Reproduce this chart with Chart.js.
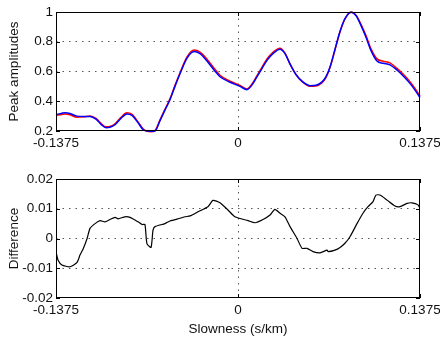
<!DOCTYPE html>
<html>
<head>
<meta charset="utf-8">
<script src="https://cdn.jsdelivr.net/npm/chart.js@4"></script>
<style>
  html, body { margin: 0; padding: 0; background: #fff; }
  #wrap { position: relative; width: 440px; height: 338px; overflow: hidden; }
  canvas { position: absolute; left: 0; }
  #topChart { top: 0; }
  #diffChart { top: 160px; }
</style>
</head>
<body>
<div id="wrap">
  <canvas id="topChart" width="440" height="160"></canvas>
  <canvas id="diffChart" width="440" height="178"></canvas>
</div>
<script>
// Slowness samples (s/km) for the peak amplitude curves
const slowness = [
  -0.1375, -0.1330, -0.1307, -0.1269, -0.1216, -0.1163, -0.1118, -0.1073, -0.1035, -0.0997,
  -0.0967, -0.0929, -0.0884, -0.0839, -0.0801, -0.0755, -0.0718, -0.0688, -0.0657, -0.0627,
  -0.0589, -0.0552, -0.0514, -0.0476, -0.0438, -0.0385, -0.0332, -0.0287, -0.0234, -0.0181,
  -0.0136, -0.0060, 0.0015, 0.0068, 0.0106, 0.0144, 0.0181, 0.0219, 0.0264, 0.0317,
  0.0355, 0.0393, 0.0438, 0.0484, 0.0544, 0.0589, 0.0635, 0.0665, 0.0695, 0.0733,
  0.0771, 0.0808, 0.0854, 0.0892, 0.0929, 0.0967, 0.1005, 0.1050, 0.1096, 0.1148,
  0.1201, 0.1254, 0.1299, 0.1337, 0.1375
];

const bluePeak = [
  0.310, 0.320, 0.323, 0.318, 0.300, 0.298, 0.298, 0.280, 0.245, 0.222,
  0.225, 0.242, 0.285, 0.315, 0.305, 0.255, 0.210, 0.200, 0.198, 0.200,
  0.270, 0.340, 0.410, 0.500, 0.585, 0.690, 0.735, 0.720, 0.670, 0.610,
  0.565, 0.528, 0.500, 0.478, 0.510, 0.565, 0.620, 0.675, 0.720, 0.750,
  0.720, 0.650, 0.580, 0.535, 0.505, 0.508, 0.530, 0.565, 0.630, 0.750,
  0.870, 0.955, 0.999, 0.975, 0.910, 0.830, 0.740, 0.670, 0.655, 0.645,
  0.610, 0.565, 0.520, 0.475, 0.425
];

const redPeak = [
  0.306, 0.311, 0.314, 0.309, 0.292, 0.295, 0.301, 0.285, 0.251, 0.228,
  0.231, 0.249, 0.292, 0.322, 0.312, 0.261, 0.215, 0.198, 0.195, 0.204,
  0.275, 0.345, 0.416, 0.507, 0.592, 0.698, 0.744, 0.731, 0.683, 0.622,
  0.575, 0.535, 0.506, 0.483, 0.516, 0.572, 0.628, 0.684, 0.729, 0.757,
  0.724, 0.651, 0.579, 0.532, 0.501, 0.503, 0.525, 0.561, 0.626, 0.746,
  0.867, 0.953, 1.000, 0.979, 0.917, 0.841, 0.752, 0.685, 0.669, 0.658,
  0.621, 0.576, 0.532, 0.487, 0.435
];

// Difference curve has its own sampling
const diffSlowness = [
  -0.1375, -0.1360, -0.1330, -0.1269, -0.1216, -0.1193, -0.1171, -0.1140, -0.1118, -0.1080,
  -0.1042, -0.1005, -0.0967, -0.0929, -0.0906, -0.0854, -0.0816, -0.0755, -0.0725, -0.0703,
  -0.0688, -0.0657, -0.0642, -0.0627, -0.0552, -0.0514, -0.0438, -0.0400, -0.0362, -0.0302,
  -0.0227, -0.0189, -0.0136, -0.0076, -0.0023, 0.0076, 0.0128, 0.0189, 0.0242, 0.0279,
  0.0317, 0.0355, 0.0393, 0.0446, 0.0484, 0.0521, 0.0567, 0.0620, 0.0673, 0.0680,
  0.0733, 0.0771, 0.0808, 0.0846, 0.0899, 0.0944, 0.0982, 0.1020, 0.1042, 0.1073,
  0.1126, 0.1186, 0.1224, 0.1277, 0.1314, 0.1360, 0.1375
];

const diffValues = [
  -0.0044, -0.0072, -0.0089, -0.0095, -0.0080, -0.0055, -0.0036, 0.0000, 0.0034, 0.0050,
  0.0060, 0.0056, 0.0064, 0.0071, 0.0066, 0.0073, 0.0071, 0.0056, 0.0047, 0.0047,
  -0.0017, -0.0030, 0.0028, 0.0040, 0.0050, 0.0059, 0.0068, 0.0073, 0.0076, 0.0090,
  0.0107, 0.0128, 0.0120, 0.0096, 0.0073, 0.0060, 0.0053, 0.0064, 0.0079, 0.0098,
  0.0085, 0.0073, 0.0040, 0.0000, -0.0033, -0.0033, -0.0044, -0.0048, -0.0039, -0.0044,
  -0.0039, -0.0030, -0.0016, 0.0006, 0.0050, 0.0085, 0.0107, 0.0124, 0.0146, 0.0146,
  0.0129, 0.0109, 0.0107, 0.0118, 0.0120, 0.0113, 0.0101
];

// Axis ticks
const xTicks = [-0.1375, 0, 0.1375];
const xTickLabels = ['-0.1375', '0', '0.1375'];
const topYTicks = [0.2, 0.4, 0.6, 0.8, 1];
const topYTickLabels = ['0.2', '0.4', '0.6', '0.8', '1'];
const diffYTicks = [-0.02, -0.01, 0, 0.01, 0.02];
const diffYTickLabels = ['-0.02', '-0.01', '0', '0.01', '0.02'];

const FONT = { family: "'Liberation Sans', Arial, Helvetica, sans-serif", size: 13.5 };
const TEXT = '#111';

// Draws the box round the plot area and short inward tick marks
const framePlugin = {
  id: 'frame',
  afterDraw(chart) {
    const { ctx, chartArea: a, scales } = chart;
    ctx.save();
    ctx.strokeStyle = '#000';
    ctx.lineWidth = 1;
    ctx.setLineDash([]);
    ctx.strokeRect(Math.round(a.left) + 0.5, Math.round(a.top) + 0.5,
      Math.round(a.width) - 1, Math.round(a.height) - 1);
    ctx.beginPath();
    scales.y.ticks.forEach(t => {
      const y = Math.round(scales.y.getPixelForValue(t.value)) + 0.5;
      ctx.moveTo(a.left, y); ctx.lineTo(a.left + 4, y);
      ctx.moveTo(a.right - 4, y); ctx.lineTo(a.right, y);
    });
    scales.x.ticks.forEach(t => {
      const x = Math.round(scales.x.getPixelForValue(t.value)) + 0.5;
      ctx.moveTo(x, a.top); ctx.lineTo(x, a.top + 4);
      ctx.moveTo(x, a.bottom - 4); ctx.lineTo(x, a.bottom);
    });
    ctx.stroke();
    ctx.restore();
  }
};

function innerGrid(ticks) {
  const lo = ticks[0], hi = ticks[ticks.length - 1];
  return ctx => (ctx.tick && ctx.tick.value > lo && ctx.tick.value < hi) ? '#555' : 'rgba(0,0,0,0)';
}

function xScale(height, withTitle) {
  return {
    type: 'linear',
    min: xTicks[0],
    max: xTicks[xTicks.length - 1],
    afterBuildTicks: s => { s.ticks = xTicks.map(v => ({ value: v })); },
    afterFit: s => {
      s.height = height;
      // let the end labels hang past the plot box, as in the original
      s.paddingLeft = 0;
      s.paddingRight = 0;
    },
    ticks: {
      autoSkip: false,
      maxRotation: 0,
      padding: 4,
      font: FONT,
      color: TEXT,
      callback: (v, i) => xTickLabels[i]
    },
    grid: { color: innerGrid(xTicks), lineWidth: 1, drawTicks: false },
    border: { display: false, dash: [1.5, 5] },
    title: {
      display: withTitle,
      text: 'Slowness (s/km)',
      font: FONT,
      color: TEXT,
      padding: { top: 2, bottom: 1 }
    }
  };
}

function yScale(ticks, labels, min, max, title) {
  return {
    min: min,
    max: max,
    afterBuildTicks: s => { s.ticks = ticks.map(v => ({ value: v })); },
    afterFit: s => { s.width = 56; },
    ticks: {
      autoSkip: false,
      padding: 3,
      font: FONT,
      color: TEXT,
      callback: (v, i) => labels[i]
    },
    grid: { color: innerGrid(ticks), lineWidth: 1, drawTicks: false },
    border: { display: false, dash: [1.5, 5] },
    title: {
      display: true,
      text: title,
      font: FONT,
      color: TEXT,
      padding: { top: 6, bottom: 0 }
    }
  };
}

const common = {
  responsive: false,
  animation: false,
  devicePixelRatio: 1,
  events: [],
  plugins: { legend: { display: false }, tooltip: { enabled: false } },
  elements: { point: { radius: 0 } }
};

new Chart(document.getElementById('topChart'), {
  type: 'line',
  data: {
    datasets: [
      {
        label: 'blue',
        data: slowness.map((s, i) => ({ x: s, y: bluePeak[i] })),
        borderColor: '#0000ff',
        borderWidth: 1.5,
        cubicInterpolationMode: 'monotone',
        clip: 2
      },
      {
        label: 'red',
        data: slowness.map((s, i) => ({ x: s, y: redPeak[i] })),
        borderColor: '#ff0000',
        borderWidth: 1.5,
        cubicInterpolationMode: 'monotone',
        clip: 2
      }
    ]
  },
  options: Object.assign({}, common, {
    layout: { padding: { left: 0, right: 20, top: 12, bottom: 0 } },
    scales: {
      x: xScale(29, false),
      y: yScale(topYTicks, topYTickLabels, 0.2, 1, 'Peak amplitudes')
    }
  }),
  plugins: [framePlugin]
});

new Chart(document.getElementById('diffChart'), {
  type: 'line',
  data: {
    datasets: [
      {
        label: 'Difference',
        data: diffSlowness.map((s, i) => ({ x: s, y: diffValues[i] })),
        borderColor: '#000',
        borderWidth: 1.2,
        tension: 0.2
      }
    ]
  },
  options: Object.assign({}, common, {
    layout: { padding: { left: 0, right: 20, top: 19, bottom: 0 } },
    scales: {
      x: xScale(40, true),
      y: yScale(diffYTicks, diffYTickLabels, -0.02, 0.02, 'Difference')
    }
  }),
  plugins: [framePlugin]
});
</script>
</body>
</html>
